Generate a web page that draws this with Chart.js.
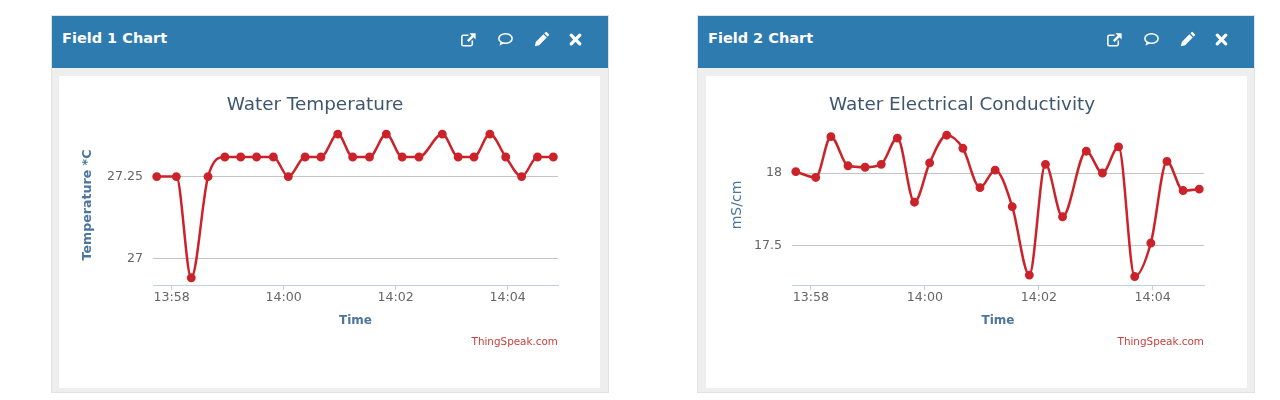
<!DOCTYPE html>
<html>
<head>
<meta charset="utf-8">
<title>ThingSpeak Fields</title>
<script src="https://cdn.jsdelivr.net/npm/chart.js@4"></script>
<style>
    html, body { margin: 0; padding: 0; background: #fff; width: 1280px; height: 400px; overflow: hidden; }
    .panel { position: absolute; top: 16px; width: 556px; height: 376px; background: #eee; box-shadow: 0 0 0 1px #e2e2e2; }
    .head { position: absolute; left: 0; top: 0; width: 100%; height: 52px; background: #2e7bb0; }
    .head span { position: absolute; left: 10px; top: 14px; color: #fff; font: bold 14.5px "DejaVu Sans", sans-serif; }
    .head svg { position: absolute; top: 14px; width: 19px; height: 19px; }
    .body { position: absolute; top: 60px; width: 541px; height: 312px; background: #fff; }
    .body canvas { position: absolute; left: 0; top: 0; }
    .credit { position: absolute; top: 259px; color: #c9403f; font: 10.4px "DejaVu Sans", sans-serif; }
</style>
</head>
<body>
<div class="panel" style="left:52px">
    <div class="head"><span>Field 1 Chart</span>
        <svg style="left:407px" viewBox="0 0 20 20"><path d="M14 11v4a1.5 1.5 0 0 1-1.5 1.5h-8A1.5 1.5 0 0 1 3 15V7a1.5 1.5 0 0 1 1.5-1.5H10" fill="none" stroke="#fff" stroke-width="1.6"/><path d="M11 3.5h6.5V10l-2.3-2.3-5 5-1.9-1.9 5-5z" fill="#fff"/></svg>
        <svg style="left:444px" viewBox="0 0 20 20"><ellipse cx="10" cy="9" rx="7" ry="5" fill="none" stroke="#fff" stroke-width="1.6"/><path d="M5 12.5 3.5 16.5 8.5 14" fill="#fff"/></svg>
        <svg style="left:480px" viewBox="0 0 20 20"><path d="M3 17l1-4.500 8-8 3.500 3.500-8 8zM13 3.500l1.200-1.200a1 1 0 0 1 1.400 0l2.100 2.100a1 1 0 0 1 0 1.400L16.500 7z" fill="#fff"/></svg>
        <svg style="left:514px" viewBox="0 0 20 20"><path d="M5.500 5.500l9 9M14.500 5.500l-9 9" stroke="#fff" stroke-width="3.400" stroke-linecap="round"/></svg>
    </div>
    <div class="body" style="left:7px"><canvas id="field1"></canvas><div class="credit" style="right:42px">ThingSpeak.com</div></div>
</div>
<div class="panel" style="left:698px">
    <div class="head"><span>Field 2 Chart</span>
        <svg style="left:407px" viewBox="0 0 20 20"><path d="M14 11v4a1.5 1.5 0 0 1-1.5 1.5h-8A1.5 1.5 0 0 1 3 15V7a1.5 1.5 0 0 1 1.5-1.5H10" fill="none" stroke="#fff" stroke-width="1.6"/><path d="M11 3.5h6.5V10l-2.3-2.3-5 5-1.9-1.9 5-5z" fill="#fff"/></svg>
        <svg style="left:444px" viewBox="0 0 20 20"><ellipse cx="10" cy="9" rx="7" ry="5" fill="none" stroke="#fff" stroke-width="1.6"/><path d="M5 12.5 3.5 16.5 8.5 14" fill="#fff"/></svg>
        <svg style="left:480px" viewBox="0 0 20 20"><path d="M3 17l1-4.500 8-8 3.500 3.500-8 8zM13 3.500l1.200-1.200a1 1 0 0 1 1.400 0l2.100 2.100a1 1 0 0 1 0 1.400L16.500 7z" fill="#fff"/></svg>
        <svg style="left:514px" viewBox="0 0 20 20"><path d="M5.500 5.500l9 9M14.500 5.500l-9 9" stroke="#fff" stroke-width="3.400" stroke-linecap="round"/></svg>
    </div>
    <div class="body" style="left:8px"><canvas id="field2"></canvas><div class="credit" style="right:43px">ThingSpeak.com</div></div>
</div>

<script>
const times = ['13:57:44', '13:58:05', '13:58:21', '13:58:39', '13:58:57', '13:59:14', '13:59:31', '13:59:49',
    '14:00:05', '14:00:23', '14:00:40', '14:00:58', '14:01:14', '14:01:32', '14:01:50', '14:02:07', '14:02:25',
    '14:02:50', '14:03:07', '14:03:24', '14:03:41', '14:03:58', '14:04:15', '14:04:32', '14:04:49'];
const temperature = [27.25, 27.25, 26.94, 27.25, 27.31, 27.31, 27.31, 27.31, 27.25, 27.31, 27.31, 27.38, 27.31,
    27.31, 27.38, 27.31, 27.31, 27.38, 27.31, 27.31, 27.38, 27.31, 27.25, 27.31, 27.31];
const conductivity = [18.01, 17.97, 18.25, 18.05, 18.04, 18.06, 18.24, 17.80, 18.07, 18.26, 18.17, 17.90, 18.02,
    17.77, 17.30, 18.06, 17.70, 18.15, 18.00, 18.18, 17.29, 17.52, 18.08, 17.88, 17.89];
const timeTicks = ['13:58:00', '14:00:00', '14:02:00', '14:04:00'];
const tempTicks = [27, 27.25];
const condTicks = [17.5, 18];

const FONT = '"DejaVu Sans", sans-serif';

function toSeconds(t) {
    const p = t.split(':').map(Number);
    return p[0] * 3600 + p[1] * 60 + p[2];
}

function toLabel(sec) {
    const h = Math.floor(sec / 3600);
    const m = Math.floor((sec % 3600) / 60);
    return h + ':' + String(m).padStart(2, '0');
}

function drawField(id, title, yTitle, yFont, values, yTicks, yMin, yMax, sidePad, yWidth, yTitlePad) {
    const cv = document.getElementById(id);
    cv.style.width = '512px';
    cv.style.height = '312px';
    cv.width = 512;
    cv.height = 312;

    return new Chart(cv, {
        type: 'line',
        data: {
            datasets: [{
                data: times.map((t, i) => ({ x: toSeconds(t), y: values[i] })),
                borderColor: '#cc2229',
                backgroundColor: '#cc2229',
                borderWidth: 2.5,
                pointRadius: 3.2,
                cubicInterpolationMode: 'monotone',
                clip: false
            }]
        },
        options: {
            responsive: false,
            animation: false,
            layout: { padding: { left: sidePad, right: sidePad, top: 0, bottom: 60 } },
            plugins: {
                legend: { display: false },
                tooltip: { enabled: false },
                title: {
                    display: true,
                    text: title,
                    color: '#3e576f',
                    font: { family: FONT, size: 18.4, weight: 'normal' },
                    padding: { top: 18, bottom: 8.9 }
                }
            },
            scales: {
                x: {
                    type: 'linear',
                    min: toSeconds('13:57:40'),
                    max: toSeconds('14:04:54'),
                    afterBuildTicks: s => { s.ticks = timeTicks.map(t => ({ value: toSeconds(t) })); },
                    afterFit: s => { s.height = 43; },
                    grid: { drawOnChartArea: false, tickLength: 5, tickColor: '#c0d0e0' },
                    border: { color: '#c0d0e0', width: 1 },
                    ticks: {
                        color: '#666',
                        padding: 0,
                        maxRotation: 0,
                        font: { family: FONT, size: 12.6 },
                        callback: v => toLabel(v)
                    },
                    title: {
                        display: true,
                        text: 'Time',
                        color: '#4d759e',
                        font: { family: FONT, size: 12, weight: 'bold' },
                        padding: { top: 0, bottom: 0 }
                    }
                },
                y: {
                    min: yMin,
                    max: yMax,
                    afterBuildTicks: s => { s.ticks = yTicks.map(v => ({ value: v })); },
                    afterFit: s => { s.width = yWidth; },
                    grid: { color: '#c4c4c4', drawTicks: false },
                    border: { display: false },
                    ticks: {
                        color: '#666',
                        padding: 10,
                        font: { family: FONT, size: 12.6 },
                        callback: v => String(v)
                    },
                    title: {
                        display: true,
                        text: yTitle,
                        color: '#4d759e',
                        font: yFont,
                        padding: { top: yTitlePad, bottom: 0 }
                    }
                }
            }
        }
    });
}

drawField('field1', 'Water Temperature', 'Temperature *C', { family: FONT, size: 12.6, weight: 'bold' },
    temperature, tempTicks, 26.918, 27.408, 13, 81, 8.4);
drawField('field2', 'Water Electrical Conductivity', 'mS/cm', { family: FONT, size: 14, weight: 'normal' },
    conductivity, condTicks, 17.232, 18.33, 14, 72, 8.6);
</script>
</body>
</html>
